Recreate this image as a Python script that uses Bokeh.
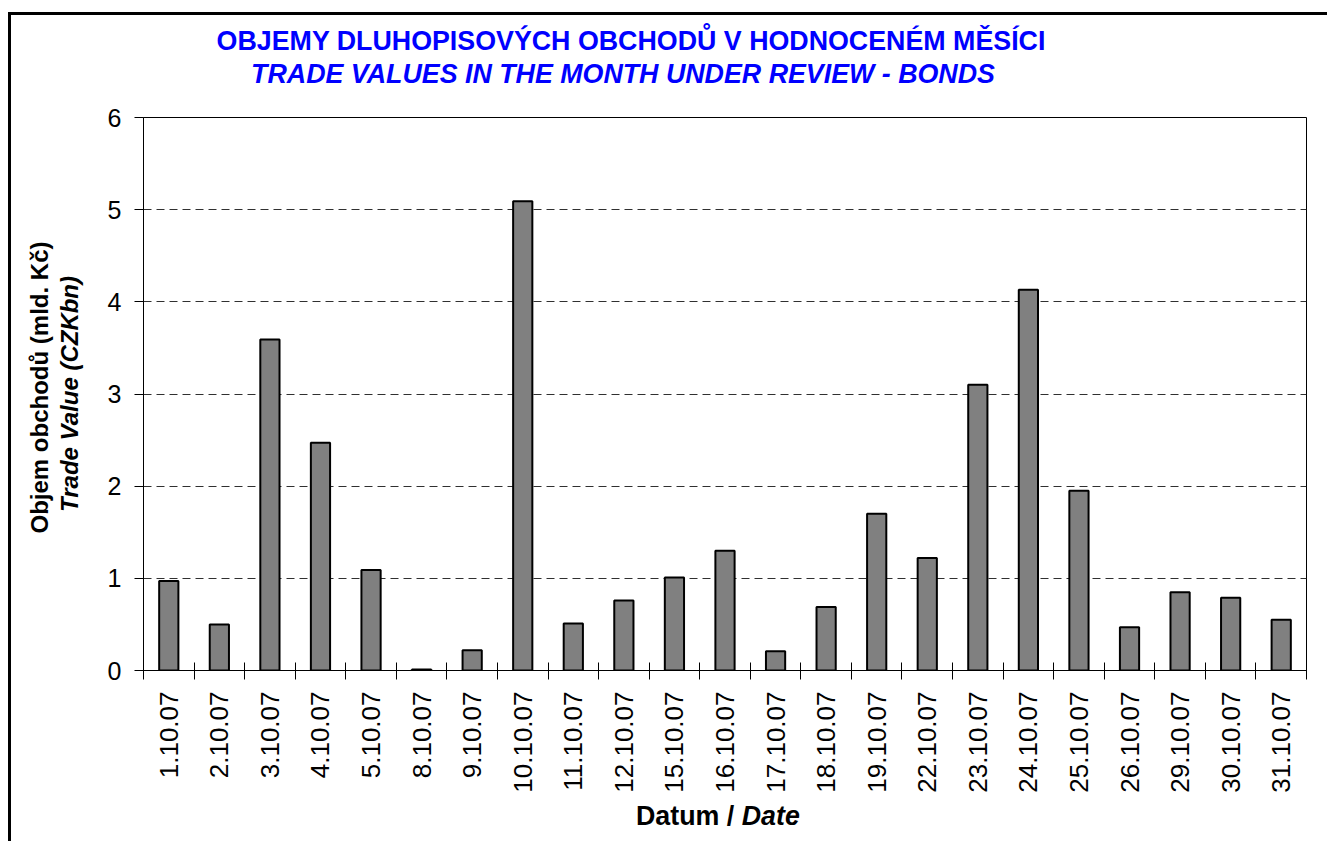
import math
from bokeh.plotting import figure
from bokeh.layouts import column
from bokeh.models import Range1d, FixedTicker, Title, Div
from bokeh.embed import file_html
from bokeh.resources import INLINE

# ---- data ----
dates = ["1.10.07", "2.10.07", "3.10.07", "4.10.07", "5.10.07", "8.10.07",
         "9.10.07", "10.10.07", "11.10.07", "12.10.07", "15.10.07", "16.10.07",
         "17.10.07", "18.10.07", "19.10.07", "22.10.07", "23.10.07", "24.10.07",
         "25.10.07", "26.10.07", "29.10.07", "30.10.07", "31.10.07"]
values = [0.97, 0.50, 3.59, 2.47, 1.09, 0.01, 0.22, 5.09, 0.51, 0.76, 1.01,
          1.30, 0.21, 0.69, 1.70, 1.22, 3.10, 4.13, 1.95, 0.47, 0.85, 0.79, 0.55]
y_ticks = [0, 1, 2, 3, 4, 5, 6]

title_cz = "OBJEMY DLUHOPISOVÝCH OBCHODŮ V HODNOCENÉM MĚSÍCI"
title_en = "TRADE VALUES IN THE MONTH UNDER REVIEW - BONDS"
ylabel_cz = "Objem obchodů (mld. Kč)"
ylabel_en = "Trade Value (CZKbn)"
xlabel_cz = "Datum / "
xlabel_en = "Date"

FONT = "Liberation Sans"
n = len(dates)
xs = [i + 0.5 for i in range(n)]

p = figure(width=1308, height=705,
           x_range=Range1d(0, n), y_range=Range1d(y_ticks[0], y_ticks[-1]),
           output_backend="svg", toolbar_location=None,
           min_border_left=132, min_border_right=13,
           min_border_top=22, min_border_bottom=130,
           background_fill_color="white", border_fill_color="white")
p.title.visible = False
p.outline_line_color = "black"
p.outline_line_width = 1

p.vbar(x=xs, top=values, width=0.38, fill_color="#808080",
       line_color="black", line_width=2)

# grid
p.xgrid.visible = False
p.ygrid.ticker = FixedTicker(ticks=y_ticks)
p.ygrid.grid_line_color = "#303030"
p.ygrid.grid_line_dash = "8 5"
p.ygrid.grid_line_width = 1

# y axis (second label line is the axis label)
ya = p.yaxis[0]
ya.ticker = FixedTicker(ticks=y_ticks)
ya.major_tick_in = 0
ya.major_tick_out = 9
ya.major_tick_line_color = "black"
ya.minor_tick_line_color = None
ya.axis_line_color = "black"
ya.major_label_text_font = FONT
ya.major_label_text_font_size = "25px"
ya.major_label_text_color = "black"
ya.major_label_standoff = 13
ya.axis_label = ylabel_en
ya.axis_label_text_font = FONT
ya.axis_label_text_font_size = "24px"
ya.axis_label_text_font_style = "bold italic"
ya.axis_label_text_color = "black"
ya.axis_label_standoff = 22

# first y label line
p.add_layout(Title(text=ylabel_cz, align="left", offset=137, standoff=0,
                   text_font=FONT, text_font_size="24px",
                   text_font_style="bold", text_color="black"), "left")

# x axis
xa = p.xaxis[0]
xa.ticker = FixedTicker(ticks=xs, minor_ticks=list(range(n + 1)))
xa.major_label_overrides = {x: d for x, d in zip(xs, dates)}
xa.major_label_orientation = math.pi / 2
xa.major_tick_line_color = None
xa.major_tick_in = 0
xa.major_tick_out = 9
xa.minor_tick_in = 8
xa.minor_tick_out = 9
xa.minor_tick_line_color = "black"
xa.axis_line_color = "black"
xa.major_label_text_font = FONT
xa.major_label_text_font_size = "26px"
xa.major_label_text_color = "black"
xa.major_label_standoff = 12

# chart title (two lines) above the figure
line_css = ("position:absolute; width:1200px; text-align:center; "
            "white-space:nowrap; font-family:'Liberation Sans'; "
            "font-size:26.8px; line-height:30px; font-weight:bold; color:#0000FF;")
title_div = Div(
    text=('<div style="position:relative; width:1308px; height:70px;">'
          '<div style="%s left:15px; top:6px;">%s</div>'
          '<div style="%s left:7px; top:39px; font-style:italic;">%s</div>'
          '</div>') % (line_css, title_cz, line_css, title_en),
    width=1308, height=70)

# x axis label (mixed styles) below the figure
xlabel = Div(text="<b>%s<i>%s</i></b>" % (xlabel_cz, xlabel_en),
             width=1308, height=34,
             styles={"font-family": FONT, "font-size": "26.8px",
                     "line-height": "22px", "padding-left": "620px",
                     "color": "black", "white-space": "nowrap"})

root = column(title_div, p, xlabel, spacing=0,
              styles={"margin-left": "8px", "margin-top": "12px",
                      "border-left": "3px solid black",
                      "border-top": "3px solid black"})

with open("out.html", "w", encoding="utf-8") as f:
    f.write(file_html(root, INLINE))
